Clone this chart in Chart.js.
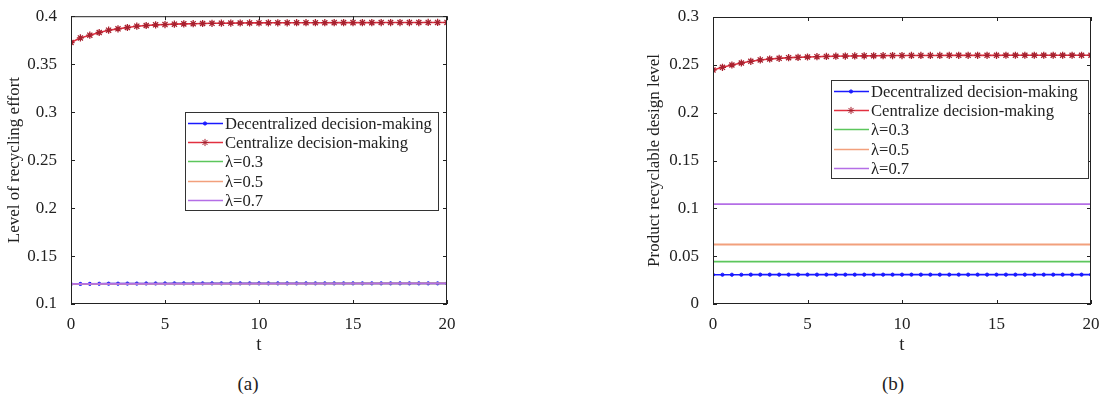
<!DOCTYPE html>
<html lang="en">
<head>
    <meta charset="UTF-8">
    <title>Recycling effort and design level</title>
    <script src="https://cdn.jsdelivr.net/npm/chart.js"></script>
    <style>
        body{
            margin: 0;
            width: 1102px;
            height: 403px;
            background: #fff;
            position: relative;
            overflow: hidden;
            font-family: "Liberation Serif", "DejaVu Serif", serif;
        }
        .box{
            position: absolute;
            top: 0;
            height: 360px;
        }
        #boxA{ left: 0; width: 460px; }
        #boxB{ left: 640px; width: 462px; }
        .cap{
            position: absolute;
            top: 373px;
            font-size: 19px;
            color: #222;
            transform: translateX(-50%);
        }
    </style>
</head>
<body>
    <div class="box" id="boxA"><canvas id="chartA"></canvas></div>
    <div class="box" id="boxB"><canvas id="chartB"></canvas></div>
    <div class="cap" style="left:248px">(a)</div>
    <div class="cap" style="left:893px">(b)</div>
</body>
</html>
<script>
    // time grid (markers every 0.5)
    const tValues = [0, 0.5, 1, 1.5, 2, 2.5, 3, 3.5, 4, 4.5, 5, 5.5, 6, 6.5, 7, 7.5, 8, 8.5, 9, 9.5, 10,
        10.5, 11, 11.5, 12, 12.5, 13, 13.5, 14, 14.5, 15, 15.5, 16, 16.5, 17, 17.5, 18, 18.5, 19, 19.5, 20];
    const tEnds = [0, 20];
    const xTicks = [0, 5, 10, 15, 20];

    // (a) level of recycling effort
    const decentralA = [0.1208, 0.1209, 0.1210, 0.1211, 0.1212, 0.1212, 0.1213, 0.1213, 0.1214, 0.1214, 0.1214,
        0.1215, 0.1215, 0.1215, 0.1215, 0.1215, 0.1215, 0.1215, 0.1215, 0.1215, 0.1215,
        0.1215, 0.1215, 0.1215, 0.1215, 0.1215, 0.1215, 0.1215, 0.1215, 0.1215, 0.1215,
        0.1215, 0.1215, 0.1215, 0.1215, 0.1215, 0.1215, 0.1215, 0.1215, 0.1215, 0.1215];
    const centralA = [0.3726, 0.3774, 0.3802, 0.3830, 0.3854, 0.3868, 0.3882, 0.3896, 0.3903, 0.3910, 0.3913,
        0.3917, 0.3920, 0.3922, 0.3924, 0.3926, 0.3927, 0.3928, 0.3929, 0.3930, 0.3930,
        0.3931, 0.3931, 0.3931, 0.3932, 0.3932, 0.3932, 0.3932, 0.3933, 0.3933, 0.3933,
        0.3933, 0.3933, 0.3934, 0.3934, 0.3934, 0.3934, 0.3934, 0.3935, 0.3935, 0.3935];
    const lam03A = [0.1210, 0.1215];
    const lam05A = [0.1210, 0.1215];
    const lam07A = [0.1210, 0.1215];
    const yTicksA = [0.1, 0.15, 0.2, 0.25, 0.3, 0.35, 0.4];

    // (b) product recyclable design level
    const decentralB = [0.0306, 0.0306, 0.0306, 0.0306, 0.0307, 0.0307, 0.0307, 0.0307, 0.0307, 0.0307, 0.0307,
        0.0307, 0.0307, 0.0307, 0.0307, 0.0307, 0.0307, 0.0307, 0.0307, 0.0307, 0.0307,
        0.0307, 0.0307, 0.0307, 0.0307, 0.0307, 0.0307, 0.0307, 0.0307, 0.0307, 0.0307,
        0.0307, 0.0307, 0.0307, 0.0307, 0.0307, 0.0307, 0.0307, 0.0307, 0.0307, 0.0307];
    const centralB = [0.2446, 0.2474, 0.2498, 0.2519, 0.2537, 0.2551, 0.2561, 0.2568, 0.2575, 0.2578, 0.2582,
        0.2585, 0.2588, 0.2590, 0.2592, 0.2593, 0.2594, 0.2595, 0.2596, 0.2597, 0.2597,
        0.2598, 0.2598, 0.2598, 0.2598, 0.2599, 0.2599, 0.2599, 0.2599, 0.2599, 0.2599,
        0.2600, 0.2600, 0.2600, 0.2600, 0.2600, 0.2600, 0.2600, 0.2600, 0.2600, 0.2600];
    const lam03B = [0.0442, 0.0442];
    const lam05B = [0.0622, 0.0622];
    const lam07B = [0.1043, 0.1043];
    const yTicksB = [0, 0.05, 0.1, 0.15, 0.2, 0.25, 0.3];

    const labels = ['Decentralized decision-making', 'Centralize decision-making', 'λ=0.3', 'λ=0.5', 'λ=0.7'];
    const colBlue = '#1a1aff', colRed = '#e23040', colStar = '#a8202e';
    const colGreen = '#5cc65c', colOrange = '#f2a07c', colPurple = '#b46ee6';
    const ink = '#222';
    const serif = '"Liberation Serif", "DejaVu Serif", serif';

    function pts(xs, ys){ return xs.map((x, i) => ({x: x, y: ys[i]})); }
    // matlab style labels: 0.1, 0.15, 0.2 ...
    function fmt(v){ return String(Math.round(v * 1000) / 1000); }

    // box, inward ticks and the boxed legend
    const framePlugin = {
        id: 'frame',
        afterDraw(chart, args, opts){
            const c = chart.ctx, a = chart.chartArea;
            const xs = chart.scales.x, ys = chart.scales.y;
            c.save();
            c.strokeStyle = ink;
            c.lineWidth = 1;
            c.strokeRect(a.left + 0.5, a.top + 0.5, a.right - a.left - 1, a.bottom - a.top - 1);
            c.beginPath();
            xs.ticks.forEach(t => {
                const px = Math.round(xs.getPixelForValue(t.value)) + 0.5;
                c.moveTo(px, a.bottom); c.lineTo(px, a.bottom - 4);
                c.moveTo(px, a.top); c.lineTo(px, a.top + 4);
            });
            ys.ticks.forEach(t => {
                const py = Math.round(ys.getPixelForValue(t.value)) + 0.5;
                c.moveTo(a.left, py); c.lineTo(a.left + 4, py);
                c.moveTo(a.right, py); c.lineTo(a.right - 4, py);
            });
            c.stroke();

            // legend
            const L = opts.box;
            c.fillStyle = '#fff';
            c.fillRect(L.x, L.y, L.w, L.h);
            c.strokeStyle = '#333';
            c.strokeRect(L.x + 0.5, L.y + 0.5, L.w, L.h);
            c.font = '16.6px ' + serif;
            c.textBaseline = 'middle';
            chart.data.datasets.forEach((ds, i) => {
                const y = Math.round(L.y + 11 + i * 19.2) + 0.5;
                c.strokeStyle = ds.borderColor;
                c.lineWidth = 1.4;
                c.beginPath();
                c.moveTo(L.x + 3, y); c.lineTo(L.x + 38, y);
                c.stroke();
                if (ds.pointRadius > 0) {
                    c.lineWidth = 1;
                    c.strokeStyle = ds.pointBorderColor;
                    c.fillStyle = ds.pointBackgroundColor;
                    Chart.helpers.drawPoint(c, {pointStyle: ds.pointStyle, radius: ds.pointRadius, borderWidth: 1}, L.x + 20, y);
                }
                c.fillStyle = ink;
                c.fillText(ds.label, L.x + 40, y + 1);
            });
            c.restore();
        }
    };

    function makeChart(id, sets, yTicks, yMin, yMax, yTitle, yWidth, pad, legendBox){
        const colors = [colBlue, colRed, colGreen, colOrange, colPurple];
        const datasets = sets.map((s, i) => ({
            label: labels[i],
            data: s,
            borderColor: colors[i],
            borderWidth: i < 2 ? 1.6 : 1.8,
            pointStyle: i === 1 ? 'star' : 'circle',
            pointRadius: i === 0 ? 1.6 : (i === 1 ? 3.6 : 0),
            pointBorderColor: i === 1 ? colStar : colBlue,
            pointBackgroundColor: i === 1 ? colStar : colBlue,
            pointBorderWidth: i === 1 ? 1.3 : 1,
            fill: false,
            tension: 0,
            order: 5 - i
        }));
        return new Chart(document.getElementById(id), {
            type: 'line',
            data: { datasets: datasets },
            options: {
                animation: false,
                responsive: true,
                maintainAspectRatio: false,
                layout: { padding: pad },
                plugins: {
                    legend: { display: false },
                    tooltip: { enabled: false },
                    frame: { box: legendBox }
                },
                scales: {
                    x: {
                        type: 'linear',
                        min: 0, max: 20,
                        grid: { display: false },
                        border: { display: false },
                        afterBuildTicks: s => { s.ticks = xTicks.map(v => ({value: v})); },
                        afterFit: s => { s.height = 56; },
                        ticks: { color: ink, font: { family: serif, size: 17 }, padding: 2, maxRotation: 0, callback: fmt },
                        title: { display: true, text: 't', color: ink, font: { family: serif, size: 19 }, padding: { top: 2 } }
                    },
                    y: {
                        min: yMin, max: yMax,
                        grid: { display: false },
                        border: { display: false },
                        afterBuildTicks: s => { s.ticks = yTicks.map(v => ({value: v})); },
                        afterFit: s => { s.width = yWidth; },
                        ticks: { color: ink, font: { family: serif, size: 17 }, padding: 6, callback: fmt },
                        title: { display: true, text: yTitle, color: ink, font: { family: serif, size: 17 }, padding: { bottom: 2 } }
                    }
                }
            },
            plugins: [framePlugin]
        });
    }

    makeChart('chartA',
        [pts(tValues, decentralA), pts(tValues, centralA), pts(tEnds, lam03A), pts(tEnds, lam05A), pts(tEnds, lam07A)],
        yTicksA, 0.1, 0.4, 'Level of recycling effort', 71,
        { top: 16, right: 13, left: 0, bottom: 0 },
        { x: 185, y: 112, w: 253, h: 98 });

    makeChart('chartB',
        [pts(tValues, decentralB), pts(tValues, centralB), pts(tEnds, lam03B), pts(tEnds, lam05B), pts(tEnds, lam07B)],
        yTicksB, 0, 0.3, 'Product recyclable design level', 73,
        { top: 17, right: 11, left: 0, bottom: 0 },
        { x: 191, y: 80, w: 257, h: 98 });
</script>
